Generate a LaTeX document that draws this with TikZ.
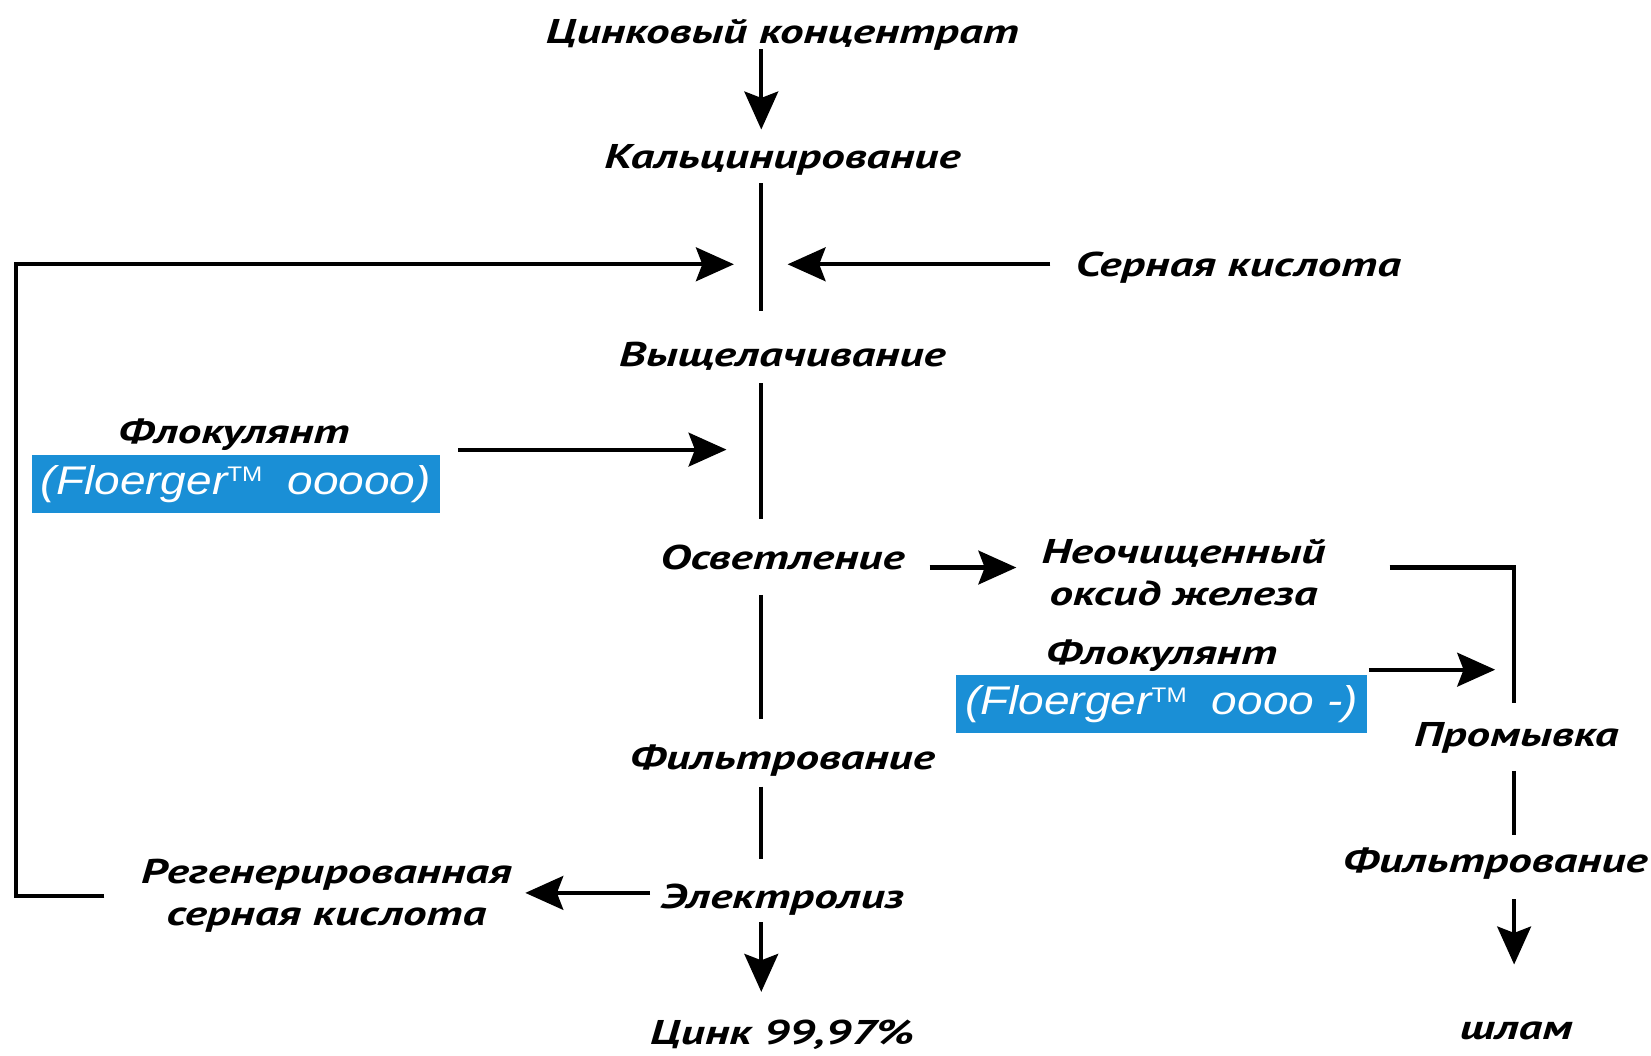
\documentclass[tikz,border=0pt]{standalone}
\usepackage{fontspec}
\usetikzlibrary{arrows.meta}
\newfontfamily\rufont[FakeStretch=1.37]{PT Sans}
\newfontfamily\flofont[FakeStretch=1.15]{Liberation Sans}
\definecolor{flblue}{RGB}{26,143,214}
\newcommand{\tmark}{\raisebox{6pt}{\upshape\fontsize{10}{10}\selectfont TM}}
\begin{document}
\begin{tikzpicture}[x=0.5pt,y=-0.5pt,line width=2pt,
  >={Stealth[length=18pt,width=16pt,inset=3pt]},
  lab/.style={font=\rufont\bfseries\itshape\fontsize{16.3}{19}\selectfont,inner sep=0pt,anchor=base,text height=12pt,text depth=4pt},
  labtwo/.style={font=\rufont\bfseries\itshape\fontsize{16.3}{20}\selectfont,inner sep=0pt,align=center},
  flobox/.style={fill=flblue,text=white,inner sep=0pt,minimum height=27.5pt,
    font=\flofont\itshape\fontsize{19}{22}\selectfont}]
\useasboundingbox (0,0) rectangle (1568,1002);
\coordinate (mx) at (723,0);
\coordinate (rx) at (1438,0);
\coordinate (jL) at (697,251);
\coordinate (jR) at (748,251);
\coordinate (loopc) at (15,251);
\coordinate (jF) at (690,427);
\coordinate (jW) at (1420,636);
% main column
\node[lab] (conc) at (743,41) {Цинковый концентрат};
\node[lab] (calc) at (743,160) {Кальцинирование};
\node[lab] (leach) at (743,348) {Выщелачивание};
\node[lab] (acid) at (1176,263) {Серная кислота};
\node[lab] (clar) at (743,541) {Осветление};
\node[lab] (filt) at (743,731) {Фильтрование};
\node[lab] (elec) at (743,863) {Электролиз};
\node[lab] (zinc) at (743,992) {Цинк 99,97\%};
\node[lab] (flo1) at (222,421) {Флокулянт};
\node[flobox,minimum width=194pt] (box1) at (224,459.5) {(Floerger\tmark\hspace{12pt}ooooo)};
\node[lab] (flo2) at (1103,631) {Флокулянт};
\node[flobox,minimum width=195pt] (box2) at (1103,669) {(Floerger\tmark\hspace{12pt}oooo -)};
\node[labtwo] (oxide) at (1124,544) {Неочищенный\\оксид железа};
\node[labtwo] (reg) at (310,851) {Регенерированная\\серная кислота};
\node[lab] (wash) at (1440,709) {Промывка};
\node[lab] (filt2) at (1420,829) {Фильтрование};
\node[lab] (sludge) at (1440,987) {шлам};
% main vertical flow
\draw[->,shorten <=-2pt,shorten >=5.5pt] (conc.south -| mx) -- (calc.north -| mx);
\draw[shorten <=2pt,shorten >=13.5pt] (calc.south -| mx) -- (leach.north -| mx);
\draw[shorten <=3pt,shorten >=11pt] (leach.south -| mx) -- (clar.north -| mx);
\draw[shorten <=7pt,shorten >=11pt] (clar.south -| mx) -- (filt.north -| mx);
\draw[shorten <=3pt,shorten >=10.5pt] (filt.south -| mx) -- (elec.north -| mx);
\draw[->,shorten <=1.5pt,shorten >=12pt] (elec.south -| mx) -- (zinc.north -| mx);
% inputs to leaching
\draw[->,shorten <=11pt] ([yshift=6pt]acid.base west) -- (jR);
\draw[->,shorten <=16.5pt] (reg.west) -| (loopc) -- (jL);
\draw[->] ([xshift=7.5pt]box1.north east |- jF) -- (jF);
% side branch
\draw[->,shorten <=11pt,shorten >=11pt] ([yshift=1pt]clar.base east) -- ([yshift=1pt]clar.base east -| oxide.west);
\draw[->,shorten <=4pt,shorten >=5.5pt] ([yshift=7.5pt]elec.base west) -- ([yshift=7.5pt]elec.base west -| reg.east);
\draw[shorten <=29.5pt,shorten >=7.5pt] ([yshift=2.5pt]oxide.east) -| (wash.north -| rx);
\draw[->] (box2.east |- jW) -- (jW);
\draw[shorten <=6.5pt,shorten >=5pt] (wash.south -| rx) -- (filt2.north -| rx);
\draw[->,shorten <=7.5pt,shorten >=22.5pt] (filt2.south -| rx) -- (sludge.north -| rx);
\end{tikzpicture}
\end{document}
